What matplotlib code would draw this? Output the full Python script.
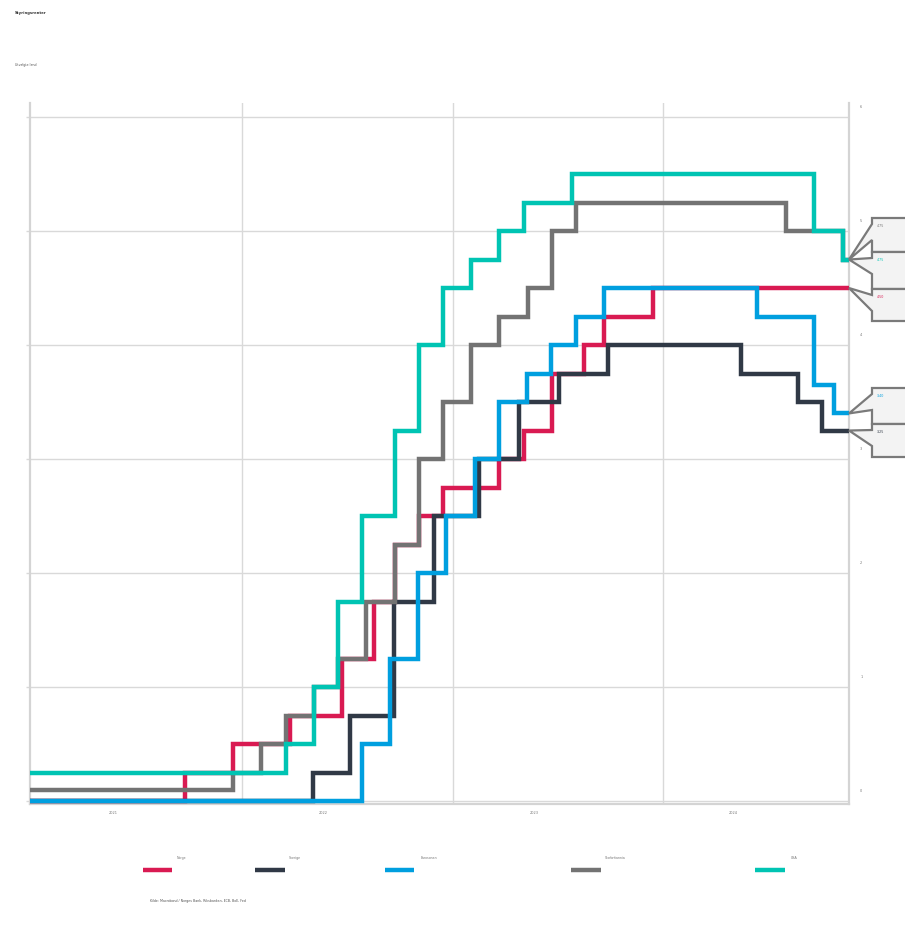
import matplotlib
matplotlib.use("Agg")
import matplotlib.pyplot as plt
import matplotlib.dates as mdates
from matplotlib.patches import Polygon
from matplotlib.lines import Line2D
import numpy as np

# ---- data: policy rates (step changes) ----
end_date = "2024-11-19"

norge_dates = ["2021-01-01", "2021-09-23", "2021-12-16", "2022-03-24", "2022-06-23",
               "2022-08-18", "2022-09-22", "2022-11-03", "2022-12-15", "2023-03-23",
               "2023-05-04", "2023-06-22", "2023-08-17", "2023-09-21", "2023-12-14"]
norge_rates = [0.0, 0.25, 0.5, 0.75, 1.25, 1.75, 2.25, 2.5, 2.75, 3.0,
               3.25, 3.75, 4.0, 4.25, 4.5]

sverige_dates = ["2021-01-01", "2022-05-04", "2022-07-06", "2022-09-21", "2022-11-30",
                 "2023-02-15", "2023-04-26", "2023-07-05", "2023-09-27", "2024-05-15",
                 "2024-08-21", "2024-10-02"]
sverige_rates = [0.0, 0.25, 0.75, 1.75, 2.5, 3.0, 3.5, 3.75, 4.0, 3.75, 3.5, 3.25]

euro_dates = ["2021-01-01", "2022-07-27", "2022-09-14", "2022-11-02", "2022-12-21",
              "2023-02-08", "2023-03-22", "2023-05-10", "2023-06-21", "2023-08-02",
              "2023-09-20", "2024-06-12", "2024-09-18", "2024-10-23"]
euro_rates = [0.0, 0.5, 1.25, 2.0, 2.5, 3.0, 3.5, 3.75, 4.0, 4.25, 4.5, 4.25, 3.65, 3.40]

uk_dates = ["2021-01-01", "2021-12-16", "2022-02-03", "2022-03-17", "2022-05-05",
            "2022-06-16", "2022-08-04", "2022-09-22", "2022-11-03", "2022-12-15",
            "2023-02-02", "2023-03-23", "2023-05-11", "2023-06-22", "2023-08-03",
            "2024-08-01", "2024-11-07"]
uk_rates = [0.1, 0.25, 0.5, 0.75, 1.0, 1.25, 1.75, 2.25, 3.0, 3.5,
            4.0, 4.25, 4.5, 5.0, 5.25, 5.0, 4.75]

usa_dates = ["2021-01-01", "2022-03-17", "2022-05-05", "2022-06-16", "2022-07-28",
             "2022-09-22", "2022-11-03", "2022-12-15", "2023-02-02", "2023-03-23",
             "2023-05-04", "2023-07-27", "2024-09-19", "2024-11-08"]
usa_rates = [0.25, 0.5, 1.0, 1.75, 2.5, 3.25, 4.0, 4.5, 4.75, 5.0, 5.25, 5.5, 5.0, 4.75]

series_names = ["Norge", "Sverige", "Eurosonen", "Storbritannia", "USA"]
series_dates = [norge_dates, sverige_dates, euro_dates, uk_dates, usa_dates]
series_rates = [norge_rates, sverige_rates, euro_rates, uk_rates, usa_rates]
series_colors = ["#d91a52", "#303946", "#009fdf", "#737373", "#00c4b3"]

year_labels = ["2021", "2022", "2023", "2024"]
year_label_pos = ["2021-05-22", "2022-05-21", "2023-05-23", "2024-05-01"]

W, H = 905, 928
fig = plt.figure(figsize=(W / 100, H / 100), dpi=100)
fig.patch.set_facecolor("white")


def fx(px):
    return px / W


def fy(py):
    return 1 - py / H


ax_l, ax_r, ax_t, ax_b = 30, 849, 104, 805
ax = fig.add_axes([fx(ax_l), fy(ax_b), fx(ax_r - ax_l), (ax_b - ax_t) / H])

grid_c = "#d9d9d9"
for d, r, c in zip(series_dates, series_rates, series_colors):
    x = np.array(d + [end_date], dtype="datetime64[D]")
    y = r + [r[-1]]
    ax.plot(x, y, drawstyle="steps-post", color=c, lw=3.2,
            solid_joinstyle="miter", zorder=3)

ax.set_xlim(np.datetime64("2020-12-29"), np.datetime64("2024-11-18"))
ax.set_ylim(-0.026, 6.123)

ax.set_yticks(range(0, 7))
ax.set_yticklabels([])
ax.tick_params(axis="y", length=3, color=grid_c, width=1)
ax.yaxis.grid(True, color=grid_c, lw=1)

for yr in ["2022-01-01", "2023-01-01", "2024-01-01"]:
    ax.axvline(np.datetime64(yr), color=grid_c, lw=1, zorder=0)

ax.set_xticks(np.array(year_label_pos, dtype="datetime64[D]"))
ax.set_xticklabels(year_labels, fontsize=2.5, color="#777777")
ax.tick_params(axis="x", length=0, pad=4)

for s in ["left", "bottom", "right"]:
    ax.spines[s].set_color("#d4d4d4")
    ax.spines[s].set_linewidth(1.6)
ax.spines["top"].set_visible(False)

# right-hand value axis
ax2 = ax.twinx()
ax2.set_ylim(-0.123, 6.026)
ax2.set_yticks(range(0, 7))
ax2.set_yticklabels([str(v) for v in range(0, 7)], fontsize=2.5, color="#777777")
ax2.tick_params(axis="y", length=0, pad=8)
for s in ax2.spines.values():
    s.set_visible(False)

# end-value callouts
box_order = [3, 4, 0, 2, 1]
box_tops = [219, 253, 290, 389, 425]
box_heights = [34, 37, 32, 36, 33]
fig.canvas.draw()
for idx, top, h in zip(box_order, box_tops, box_heights):
    last = series_rates[idx][-1]
    disp = ax.transData.transform((mdates.date2num(np.datetime64(end_date)), last))
    tip_y = H - disp[1]
    x0, xtip, xr = 872, 849, 930
    bot = top + h
    wa, wb = top + 6, top + 22
    pts = [(xr, top), (x0, top), (x0, wa), (xtip, tip_y), (x0, wb), (x0, bot), (xr, bot)]
    poly = Polygon([(fx(px), fy(py)) for px, py in pts], closed=True,
                   transform=fig.transFigure, facecolor="#f3f3f3",
                   edgecolor="#7a7a7a", lw=1.6, clip_on=False, zorder=5)
    fig.add_artist(poly)
    fig.text(fx(877), fy(top + 7), f"{last:.2f}", fontsize=2.3,
             color=series_colors[idx], va="center", ha="left", zorder=6)

# title and subtitle
fig.text(fx(15), fy(13), "Styringsrenter", fontsize=2.7, fontweight="bold",
         color="#333333", va="center", ha="left")
fig.text(fx(15), fy(65), "Utvalgte land", fontsize=2.3,
         color="#555555", va="center", ha="left")

# legend
handle_x = [(143, 172), (255, 285), (385, 414), (571, 601), (755, 785)]
label_x = [181, 295, 429, 615, 794]
for name, c, (a, b), lx in zip(series_names, series_colors, handle_x, label_x):
    fig.add_artist(Line2D([fx(a), fx(b)], [fy(871), fy(871)], color=c, lw=3.2,
                          transform=fig.transFigure, solid_capstyle="butt"))
    fig.text(fx(lx), fy(858), name, fontsize=2.3, color="#777777",
             ha="center", va="center")

fig.text(fx(150), fy(901),
         "Kilde: Macrobond / Norges Bank, Riksbanken, ECB, BoE, Fed",
         fontsize=2.3, color="#555555", ha="left", va="center")

fig.savefig("out.png", dpi=100, facecolor="white")
